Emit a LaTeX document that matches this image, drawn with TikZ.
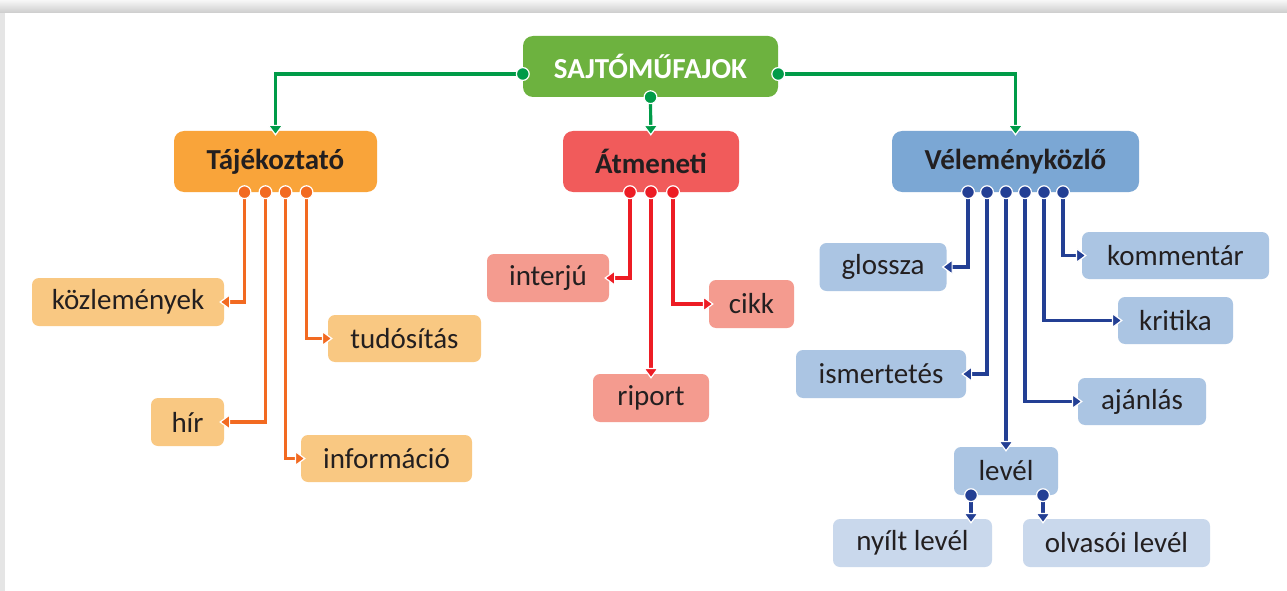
\documentclass[tikz,border=0pt]{standalone}
\usepackage{fontspec}
\setmainfont{Carlito}
\usetikzlibrary{arrows.meta, positioning}

\definecolor{rootgreen}{RGB}{109, 178, 63}
\definecolor{linkgreen}{RGB}{0, 155, 72}
\definecolor{tajorange}{RGB}{249, 164, 58}
\definecolor{tajlight}{RGB}{249, 200, 130}
\definecolor{tajline}{RGB}{242, 106, 33}
\definecolor{atmred}{RGB}{241, 91, 91}
\definecolor{atmlight}{RGB}{244, 155, 143}
\definecolor{atmline}{RGB}{237, 28, 36}
\definecolor{velblue}{RGB}{123, 167, 212}
\definecolor{vellight}{RGB}{171, 197, 227}
\definecolor{velpale}{RGB}{201, 216, 236}
\definecolor{velline}{RGB}{35, 63, 148}
\definecolor{inkgray}{RGB}{35, 31, 32}

\tikzset{
  genre/.style={rounded corners=7pt, inner sep=0pt, text=inkgray, font=\fontsize{29}{33}\selectfont},
  headgenre/.style={genre, rounded corners=10pt, minimum height=61pt, font=\bfseries\fontsize{29}{33}\selectfont},
  link/.style={draw=#1, line width=3.2pt, shorten <=-7pt, shorten >=-5pt,
    {Circle[length=14pt, color=white, fill=#1, line width=1.2pt]}-{Triangle[width=16pt, length=11pt, color=white, fill=#1, line width=1.2pt]}}
}

\begin{document}
\begin{tikzpicture}[x=1pt, y=-1pt]
  \useasboundingbox (0,0) rectangle (1287,591);
  % page edge
  \fill[black!10] (0,0) rectangle (1287,591);
  \shade[top color=black!3, bottom color=black!20] (0,0) rectangle (1287,13);
  \fill[white] (5,13) rectangle (1287,591);

  % Top and the three groups
  \node[headgenre, fill=rootgreen, text=white, minimum width=255pt] (root) at (650.5, 66.5) {SAJTÓMŰFAJOK};
  \node[headgenre, fill=tajorange, minimum width=203pt] (taj) at (275.5, 161.5) {Tájékoztató};
  \node[headgenre, fill=atmred, minimum width=176pt] (atm) at (651, 161.5) {Átmeneti};
  \node[headgenre, fill=velblue, minimum width=247pt] (vel) at (1015.5, 161.5) {Véleményközlő};

  % Tájékoztató
  \node[genre, fill=tajlight, minimum width=192pt, minimum height=48pt] (kozl) at (128, 302) {közlemények};
  \node[genre, fill=tajlight, minimum width=153pt, minimum height=47pt] (tudo) at (404.5, 338.5) {tudósítás};
  \node[genre, fill=tajlight, minimum width=73pt, minimum height=48pt] (hir) at (187.5, 422) {hír};
  \node[genre, fill=tajlight, minimum width=171pt, minimum height=47pt] (info) at (386.5, 458.5) {információ};

  % Átmeneti
  \node[genre, fill=atmlight, minimum width=122pt, minimum height=48pt] (interju) at (548, 278) {interjú};
  \node[genre, fill=atmlight, minimum width=85pt, minimum height=48pt] (cikk) at (751.5, 304) {cikk};
  \node[genre, fill=atmlight, minimum width=116pt, minimum height=48pt] (riport) at (651, 398) {riport};

  % Véleményközlő
  \node[genre, fill=vellight, minimum width=127pt, minimum height=48pt] (glossza) at (883, 267) {glossza};
  \node[genre, fill=vellight, minimum width=187pt, minimum height=47pt] (komm) at (1175.5, 255.5) {kommentár};
  \node[genre, fill=vellight, minimum width=115pt, minimum height=47pt] (krit) at (1175.5, 320.5) {kritika};
  \node[genre, fill=vellight, minimum width=170pt, minimum height=48pt] (ism) at (881, 374) {ismertetés};
  \node[genre, fill=vellight, minimum width=128pt, minimum height=47pt] (ajan) at (1142, 401.5) {ajánlás};
  \node[genre, fill=vellight, minimum width=104pt, minimum height=48pt] (level) at (1006, 471) {levél};
  \node[genre, fill=velpale, minimum width=159pt, minimum height=48pt] (nyilt) at (912.5, 543) {nyílt levél};
  \node[genre, fill=velpale, minimum width=187pt, minimum height=48pt] (olvas) at (1116.5, 543) {olvasói levél};

  % Links
  \draw[link=linkgreen] ([yshift=-7.5pt]root.west) -| (taj);
  \draw[link=linkgreen] (root.south) -- (atm);
  \draw[link=linkgreen] ([yshift=-7.5pt]root.east) -| (vel);

  \draw[link=tajline] ([xshift=-31pt]taj.south) |- (kozl);
  \draw[link=tajline] ([xshift=-10pt]taj.south) |- (hir);
  \draw[link=tajline] ([xshift=10pt]taj.south) |- (info);
  \draw[link=tajline] ([xshift=31pt]taj.south) |- (tudo);

  \draw[link=atmline] ([xshift=-21pt]atm.south) |- (interju);
  \draw[link=atmline] (atm.south) -- (riport);
  \draw[link=atmline] ([xshift=22pt]atm.south) |- (cikk);

  \draw[link=velline] ([xshift=-47.5pt]vel.south) |- (glossza);
  \draw[link=velline] ([xshift=-28.5pt]vel.south) |- (ism);
  \draw[link=velline] ([xshift=-9.5pt]vel.south) -- (level);
  \draw[link=velline] ([xshift=9.5pt]vel.south) |- (ajan);
  \draw[link=velline] ([xshift=28.5pt]vel.south) |- (krit);
  \draw[link=velline] ([xshift=47.5pt]vel.south) |- (komm);

  \draw[link=velline] ([xshift=-35pt]level.south) -- ([xshift=-35pt]level.south |- nyilt.north);
  \draw[link=velline] ([xshift=37pt]level.south) -- ([xshift=37pt]level.south |- olvas.north);
\end{tikzpicture}
\end{document}
